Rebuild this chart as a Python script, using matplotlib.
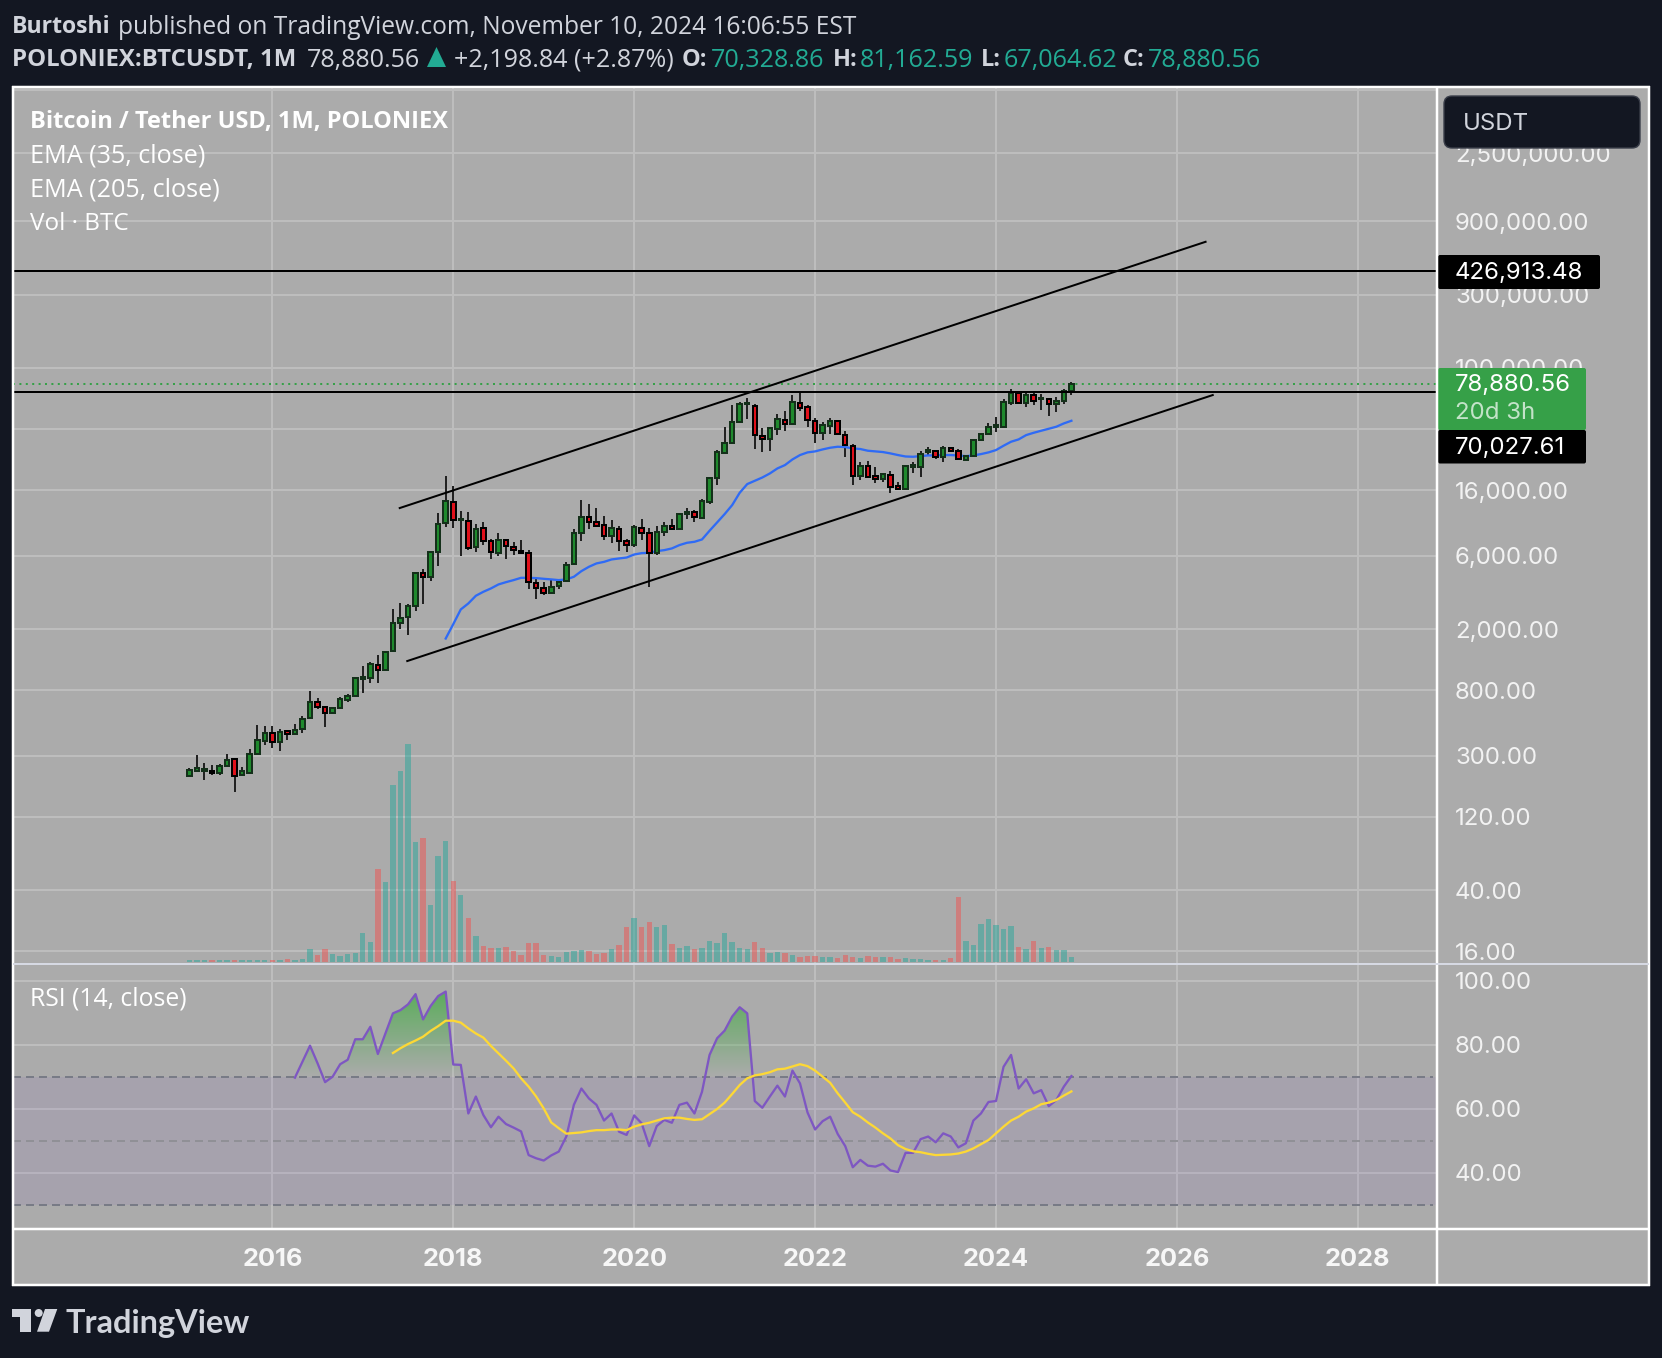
import numpy as np
import matplotlib
matplotlib.use("Agg")
import matplotlib.pyplot as plt
from matplotlib.patches import Rectangle, FancyBboxPatch, Polygon, Circle
from matplotlib.path import Path

# ---------- data (monthly bars, Feb 2015 .. Nov 2024) ----------
opens = [223,239,239,240,232,258,284,225,233,308,375,423,366,436,413,445,525,666,618,568,609,690,737,950,955,1172,1076,1431,2177,2381,2807,4623,4336,6367,9738,13480,10180,10126,6800,9125,7435,6276,7618,6822,6465,6276,3996,3680,3414,3790,4081,5263,8383,10657,9881,9448,8094,8988,7428,7037,9119,8383,6272,8515,9303,8948,11261,11484,10551,13466,19376,28080,32290,44218,57920,56213,36220,34288,40219,46040,42924,59300,55919,45335,37514,42101,44864,36574,31184,19680,22871,19680,18922,20178,16952,16194,22764,22764,28508,28651,26438,29971,28651,25261,26546,33753,36985,41454,41454,59300,68990,59300,66570,62792,63082,57920,61241,70328]
highs = [251,302,267,260,263,310,288,254,331,472,465,465,445,436,479,546,786,708,625,625,719,751,980,1149,1219,1355,1431,2684,2938,2894,4675,4885,6400,11318,19790,17050,11726,11496,9620,9889,7661,8382,7661,7327,7586,6497,4290,4048,4166,4166,5486,8896,13813,13010,12194,10867,10236,9356,7659,9448,10341,9027,9356,9881,10341,11313,12246,11892,13943,19376,29222,41454,57330,60272,63373,58212,40396,41454,49862,52156,66570,68990,57330,46981,44688,46981,45335,39043,31800,24298,24762,22550,20589,21217,18013,23335,24512,28794,30399,29222,30863,30720,29507,26974,33932,37514,43571,48157,62404,72481,70737,70059,70059,67636,63663,65020,72481,81162]
lows = [223,239,208,224,224,254,175,221,231,304,352,338,323,379,413,423,525,600,463,562,606,673,737,763,894,894,1076,1424,2008,1835,2633,2922,4127,5165,9264,9125,6000,6560,6367,7037,5733,6000,5733,6086,6145,3660,3148,3330,3414,3660,4061,5211,7500,8988,9264,7580,7285,6464,6368,6862,7580,3769,6113,8094,8817,8896,10394,9881,10433,13010,17298,27509,31934,43982,46512,29686,28508,28794,36574,38808,42924,52626,41454,32611,33932,36985,36574,26438,17298,18640,19290,17732,18186,15415,16194,16194,20806,19593,26689,25654,24512,28366,25154,24905,26438,33575,36397,38102,41454,57036,58800,55919,57624,53214,48922,51626,58212,67064]
closes = [242,249,245,231,259,282,222,237,308,377,423,366,430,415,443,522,666,618,571,609,698,729,955,969,1178,1076,1424,2177,2369,2807,4650,4336,6367,9684,13536,10180,10340,6768,8985,7435,6308,7618,6930,6497,6276,4022,3680,3414,3770,4061,5244,8383,10657,9881,9356,8094,9027,7428,7069,9172,8383,6272,8515,9303,8948,11195,11484,10657,13531,19376,28223,32290,44218,57920,58800,36397,34288,40396,46276,43100,59690,55096,45569,37514,42277,44864,37162,31327,19680,22871,19593,19009,20286,16865,16194,22978,23335,27652,29222,26438,29971,28651,25404,26689,33753,36985,41454,42512,59690,68990,59300,66570,61241,63663,57920,61241,70328,78880]
volumes = [6,6,6,6,6,6,6,6,6,6,6,6,6,9,6,9,39,21,39,24,18,24,27,87,60,279,240,531,573,654,360,372,171,318,363,243,201,132,78,48,42,42,45,33,21,57,57,21,18,15,30,33,36,33,24,27,39,51,105,132,105,120,105,111,54,42,48,39,42,63,57,87,60,42,39,60,42,27,30,27,21,15,18,18,15,15,12,21,15,12,18,15,15,15,9,12,9,9,6,6,6,12,195,63,51,114,129,111,99,108,45,39,63,42,45,36,36,15]
ema35 = [1736,2152,2684,2936,3295,3498,3677,3904,4040,4165,4311,4311,4291,4248,4209,4165,4209,4378,4765,5085,5348,5475,5675,5762,5842,6113,6240,6272,6432,6527,6695,7037,7285,7396,7659,8725,9881,11195,12812,15415,17558,18446,19376,20589,22193,23335,25404,27117,28223,28651,29507,30257,30720,30578,29971,29686,28936,28651,28366,27795,27117,26546,26438,26689,26974,26974,27117,27117,26974,26689,26974,27509,28223,29222,31184,33112,34288,36574,37867,39043,40219,41454,43571,45335]
rsi = [69.7,74.7,79.7,74.2,68.3,70.0,73.9,75.3,81.7,81.7,85.6,77.1,83.5,89.8,90.8,92.6,95.8,87.9,92.1,95.2,96.6,73.8,73.7,58.5,63.8,58.0,54.2,57.5,55.2,54.1,52.9,45.5,44.5,43.8,45.4,46.6,51.3,61.2,66.3,63.2,61.2,56.3,58.5,52.8,51.8,57.9,55.4,48.3,54.6,56.5,55.6,61.2,61.9,58.5,65.3,76.8,82.0,84.4,88.8,91.7,89.8,62.4,60.3,63.8,67.2,63.8,71.9,67.9,58.8,53.5,56.1,57.5,52.1,48.3,41.7,44.0,42.2,41.9,42.8,40.7,40.2,46.2,46.2,50.5,51.3,49.5,52.3,51.3,47.9,49.2,56.3,58.5,62.1,62.4,73.1,76.8,66.3,69.2,64.8,65.8,60.8,62.7,66.9,70.2]
rsi_ma = [77.4,78.9,80.2,81.3,82.5,84.3,85.8,87.5,87.5,86.9,85.1,83.5,82.2,79.6,77.3,75.0,72.6,69.5,66.9,63.8,60.1,55.7,53.9,52.2,52.4,52.6,53.0,53.3,53.3,53.5,53.5,53.3,54.4,55.1,55.6,56.3,57.0,57.2,57.2,56.8,56.5,56.7,58.3,59.9,61.9,64.6,67.4,69.5,70.4,70.8,71.4,72.3,72.5,73.2,73.9,73.3,71.9,70.0,68.1,64.8,61.9,58.9,57.5,55.7,54.1,52.3,50.7,48.6,47.4,46.7,46.4,45.9,45.5,45.6,45.7,46.0,46.6,47.6,48.9,50.2,52.3,54.4,56.3,57.5,59.1,60.1,61.4,61.9,62.7,64.1,65.4]
year_ticks = [11, 35, 59, 83, 107, 131, 155]
year_labels = ["2016", "2018", "2020", "2022", "2024", "2026", "2028"]
price_ticks = [6400000, 2500000, 900000, 300000, 100000, 40000, 16000, 6000, 2000, 800, 300, 120, 40, 16]
price_labels = ["", "2,500,000.00", "900,000.00", "300,000.00", "100,000.00", "40,000.00", "16,000.00",
                "6,000.00", "2,000.00", "800.00", "300.00", "120.00", "40.00", "16.00"]
rsi_ticks = [100, 80, 60, 40]
rsi_labels = ["100.00", "80.00", "60.00", "40.00"]
level_high = 426913.48
level_low = 70027.61
last_price = 78880.56
upper_x, upper_y = [27.9, 134.8], [12260, 662000]
lower_x, lower_y = [28.9, 135.75], [1239, 66630]

# ---------- colours ----------
DARK = "#131722"; PANE = "#ababab"; GRID = "#bdbdbd"; HEAD = "#d1d4dc"; TEAL = "#22ab94"
W, H = 1662, 1358
FRAME_L, FRAME_T, FRAME_R, FRAME_B = 13, 87, 1649, 1285
SPLIT_X, SPLIT_Y1, SPLIT_Y2 = 1437, 963.7, 1228.8
PX = 0.72  # points per pixel at dpi 100
AXF = "Inter"; AXS = 17.3

fig = plt.figure(figsize=(W / 100, H / 100), dpi=100, facecolor=DARK)

def px_axes(x0, y0, x1, y1, **kw):
    return fig.add_axes([x0 / W, 1 - y1 / H, (x1 - x0) / W, (y1 - y0) / H], **kw)

bg = px_axes(0, 0, W, H, zorder=0)
bg.set_xlim(0, W); bg.set_ylim(H, 0); bg.axis("off")
bg.add_patch(Rectangle((FRAME_L, FRAME_T), FRAME_R - FRAME_L, FRAME_B - FRAME_T, fc=PANE, ec="none"))

x = np.arange(len(closes))
XLIM = (-23.4, 165.5)

# ---------- price pane ----------
ax = px_axes(FRAME_L, FRAME_T, SPLIT_X, SPLIT_Y1, zorder=1)
ax.patch.set_visible(False)
ax.set_yscale("log")
ax.set_xlim(*XLIM)
ax.set_ylim(13.3, 6.73e6)
ax.set_yticks(price_ticks); ax.set_yticklabels(price_labels)
ax.minorticks_off()
ax.yaxis.tick_right()
ax.set_xticks(year_ticks); ax.set_xticklabels([])
ax.grid(True, color=GRID, lw=2 * PX, zorder=0)
ax.set_axisbelow(True)
ax.tick_params(axis="both", length=0)
ax.tick_params(axis="y", pad=18 * PX, labelsize=AXS, labelcolor="#f2f2f2")
for t in ax.get_yticklabels():
    t.set_family(AXF)
for s in ax.spines.values():
    s.set_visible(False)

o, h, l, c = map(np.array, (opens, highs, lows, closes))
up = c >= o
ax.vlines(x, l, h, color="#222222", lw=2 * PX, zorder=3)
ax.bar(x[up], np.abs(c - o)[up], bottom=np.minimum(o, c)[up], width=0.6,
       fc="#1f8a2d", ec="#14301a", lw=2 * PX, zorder=4)
ax.bar(x[~up], np.abs(c - o)[~up], bottom=np.minimum(o, c)[~up], width=0.6,
       fc="#e0101a", ec="#000000", lw=2 * PX, zorder=4)

ax.plot(x[-len(ema35):], ema35, color="#2f6bf5", lw=2.3 * PX, zorder=3.5)
ax.plot(upper_x, upper_y, color="black", lw=2 * PX, zorder=5)
ax.plot(lower_x, lower_y, color="black", lw=2 * PX, zorder=5)
ax.axhline(level_high, color="black", lw=2 * PX, zorder=5)
ax.axhline(level_low, color="black", lw=2 * PX, zorder=5)
ax.axhline(last_price, color="#36a048", lw=2 * PX, ls=(0, (1, 2.2)), zorder=2)

# ---------- volume overlay ----------
vol = px_axes(FRAME_L, FRAME_T, SPLIT_X, SPLIT_Y1, zorder=2)
vol.patch.set_visible(False); vol.axis("off")
vol.set_xlim(*XLIM); vol.set_ylim(-5, 2625)
v = np.array(volumes)
vol.bar(x[up], v[up], width=0.72, color="#26a69a", alpha=0.5, lw=0)
vol.bar(x[~up], v[~up], width=0.72, color="#ef5350", alpha=0.5, lw=0)

# ---------- RSI pane ----------
ar = px_axes(FRAME_L, SPLIT_Y1, SPLIT_X, SPLIT_Y2, zorder=1)
ar.patch.set_visible(False)
RSI_LIM = (22.47, 105.31)
ar.set_xlim(*XLIM); ar.set_ylim(*RSI_LIM)
ar.set_yticks(rsi_ticks); ar.set_yticklabels(rsi_labels)
ar.yaxis.tick_right()
ar.set_xticks(year_ticks); ar.set_xticklabels(year_labels)
ar.grid(True, color=GRID, lw=2 * PX, zorder=0)
ar.set_axisbelow(True)
ar.tick_params(axis="both", length=0)
ar.tick_params(axis="y", pad=18 * PX, labelsize=AXS, labelcolor="#f2f2f2")
ar.tick_params(axis="x", pad=19.5 * PX, labelsize=18.3, labelcolor="#f7f7f7")
for t in ar.get_yticklabels():
    t.set_family(AXF)
for t in ar.get_xticklabels():
    t.set_family(AXF); t.set_weight("bold")
for s in ar.spines.values():
    s.set_visible(False)

ar.axhspan(30, 70, color="#7e57c2", alpha=0.10, lw=0, zorder=1)
dash = (0, (8 / 2, 5 / 2))
ar.axhline(70, color="#787b86", lw=2 * PX, ls=dash, xmax=0.9975, zorder=2)
ar.axhline(50, color="#909096", lw=2 * PX, ls=dash, xmax=0.9975, zorder=2)
ar.axhline(30, color="#787b86", lw=2 * PX, ls=dash, xmax=0.9975, zorder=2)

rx = x[-len(rsi):]
rv = np.array(rsi)
fill = ar.fill_between(rx, 70, rv, where=rv >= 70, interpolate=True, color="none", lw=0)
grad = np.zeros((256, 1, 4))
grad[..., 0], grad[..., 1], grad[..., 2] = 0.30, 0.68, 0.30
grad[..., 3] = np.linspace(0.85, 0.0, 256)[:, None]
img = ar.imshow(grad, extent=(rx[0], rx[-1], 70, 97), origin="upper", aspect="auto", zorder=2.5)
clip = Path.make_compound_path(*fill.get_paths())
img.set_clip_path(clip, transform=ar.transData)
ar.set_xlim(*XLIM); ar.set_ylim(*RSI_LIM)

ar.plot(rx, rv, color="#7e57c2", lw=2.3 * PX, zorder=3)
ar.plot(x[-len(rsi_ma):], rsi_ma, color="#fdd835", lw=2.3 * PX, zorder=3.5)

# ---------- overlay: frame, header, labels, logo ----------
ov = px_axes(0, 0, W, H, zorder=5)
ov.patch.set_visible(False)
ov.set_xlim(0, W); ov.set_ylim(H, 0); ov.axis("off")

def rule(x0, y0, x1, y1, color="white", lw=2):
    ov.plot([x0, x1], [y0, y1], color=color, lw=lw * PX, solid_capstyle="butt")

rule(FRAME_L - 1, FRAME_T, FRAME_R + 1, FRAME_T, lw=2.5)
rule(FRAME_L, FRAME_T - 1, FRAME_L, FRAME_B + 1, lw=2.5)
rule(FRAME_R, FRAME_T - 1, FRAME_R, FRAME_B + 1, lw=2.5)
rule(FRAME_L - 1, FRAME_B, FRAME_R + 1, FRAME_B, lw=2.5)
rule(SPLIT_X, FRAME_T, SPLIT_X, FRAME_B, lw=2.5)
rule(FRAME_L, SPLIT_Y1, FRAME_R, SPLIT_Y1, color="#d6d9e3")
rule(FRAME_L, SPLIT_Y2, FRAME_R, SPLIT_Y2, lw=2.5)

HF = "Open Sans"
def head(px, py, s, size=18.1, color=HEAD, weight="normal"):
    ov.text(px, py, s, color=color, fontsize=size, family=HF, weight=weight, va="center", ha="left")

head(12, 27, "Burtoshi", size=16.6, weight="bold")
head(118, 27, "published on TradingView.com, November 10, 2024 16:06:55 EST", size=17.65)
head(12, 60, "POLONIEX:BTCUSDT, 1M", size=17.25, weight="bold")
head(307, 60, "78,880.56")
ov.add_patch(Polygon([[427, 67], [446, 67], [436.5, 47]], fc=TEAL, ec="none"))
head(454, 60, "+2,198.84 (+2.87%)")
for lab, lx, val, vx in [("O:", 682, "70,328.86", 711), ("H:", 833, "81,162.59", 860),
                         ("L:", 981, "67,064.62", 1004), ("C:", 1123, "78,880.56", 1148)]:
    head(lx, 60, lab, size=16.9, weight="bold")
    head(vx, 60, val, color=TEAL)

ov.text(30, 122, "Bitcoin / Tether USD, 1M, POLONIEX", color="white", fontsize=17.05, family=HF, weight="bold", va="center", ha="left")
for s, py, sz in [("EMA (35, close)", 156, 18.1), ("EMA (205, close)", 190, 18.1), ("Vol · BTC", 224, 17.5)]:
    ov.text(30, py, s, color="white", fontsize=sz, family=HF, va="center", ha="left")
ov.text(30, 999, "RSI (14, close)", color="white", fontsize=17.8, family=HF, va="center", ha="left")

ov.add_patch(FancyBboxPatch((1447, 99), 190, 46, boxstyle="round,pad=3,rounding_size=8",
                            fc=DARK, ec="#3a3e4a", lw=1))
ov.text(1463, 124, "USDT", color=HEAD, fontsize=AXS, family=AXF, va="center", ha="left")

def tag(y0, y1, x1, color):
    ov.add_patch(FancyBboxPatch((SPLIT_X + 1, y0), x1 - SPLIT_X - 1, y1 - y0,
                                boxstyle="round,pad=0,rounding_size=2", fc=color, ec="none"))
tag(255, 289, 1600, "black")
ov.text(1455, 273, "426,913.48", color="white", fontsize=AXS, family=AXF, va="center", ha="left")
tag(368, 430, 1586, "#36a048")
ov.text(1455, 385, "78,880.56", color="white", fontsize=AXS, family=AXF, va="center", ha="left")
ov.text(1455, 413, "20d 3h", color="#c3e3c8", fontsize=AXS, family=AXF, va="center", ha="left")
tag(430, 463.5, 1586, "black")
ov.text(1455, 448, "70,027.61", color="white", fontsize=AXS, family=AXF, va="center", ha="left")

LOGO = "#d1d4dc"
ov.add_patch(Polygon([[12, 1309], [30.7, 1309], [30.7, 1331.7], [20, 1331.7], [20, 1317], [12, 1317]], fc=LOGO, ec="none"))
ov.add_patch(Circle((38.7, 1313), 4, fc=LOGO, ec="none"))
ov.add_patch(Polygon([[45, 1309], [57.3, 1309], [49, 1331.7], [37, 1331.7]], fc=LOGO, ec="none"))
ov.text(66, 1323, "TradingView", color=LOGO, fontsize=23.4, family="Lato", weight="bold", va="center", ha="left")

fig.savefig("out.png", dpi=100, facecolor=DARK)
